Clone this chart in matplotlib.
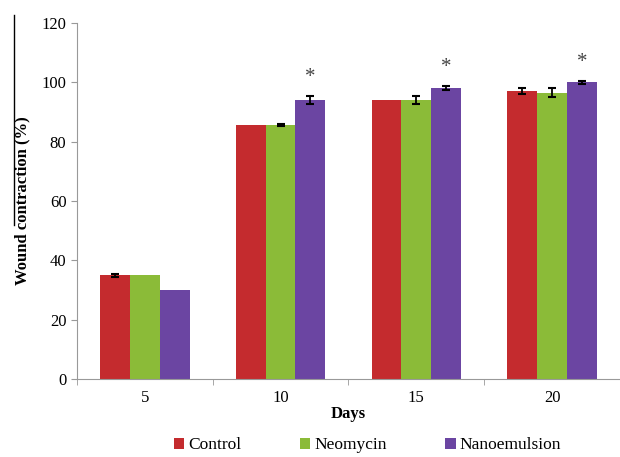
import matplotlib.pyplot as plt
from matplotlib.lines import Line2D
import numpy as np

days = ["5", "10", "15", "20"]
groups = ["Control", "Neomycin", "Nanoemulsion"]
control = [35.0, 85.5, 94.0, 97.0]
neomycin = [35.0, 85.5, 94.0, 96.5]
nanoemulsion = [30.0, 94.0, 98.0, 100.0]
control_err = [0.5, 0.0, 0.0, 1.0]
neomycin_err = [0.0, 0.4, 1.5, 1.5]
nanoemulsion_err = [0.0, 1.5, 0.8, 0.5]
significant = [False, True, True, True]

colors = ["#C42B2E", "#8BBB38", "#6B45A2"]

plt.rcParams["font.family"] = ["Liberation Serif", "DejaVu Serif"]

fig = plt.figure(figsize=(6.2, 4.57), dpi=100)
ax = fig.add_axes([0.124, 0.171, 0.876, 0.779])

x = np.arange(len(days))
width = 0.22
series = [control, neomycin, nanoemulsion]
errors = [control_err, neomycin_err, nanoemulsion_err]
for i, (vals, errs) in enumerate(zip(series, errors)):
    pos = x + (i - 1) * width
    ax.bar(pos, vals, width, color=colors[i], label=groups[i])
    keep = np.array(errs) > 0
    ax.errorbar(pos[keep], np.array(vals)[keep], yerr=np.array(errs)[keep],
                fmt="none", ecolor="black", elinewidth=1.3, capsize=3, capthick=1.5)

for xi, sig, v, e in zip(x, significant, nanoemulsion, nanoemulsion_err):
    if sig:
        ax.text(xi + width, v + e + 3, "*", ha="center", va="bottom",
                fontsize=15, color="#444444")

ax.set_xlim(-0.5, len(days) - 0.5)
ax.set_ylim(0, 120)
ax.set_yticks(range(0, 121, 20))
ax.set_xticks(x)
ax.set_xticklabels(days)
ax.set_xticks(np.arange(-0.5, len(days)), minor=True)
ax.tick_params(axis="x", which="major", length=0, labelsize=12, pad=8)
ax.tick_params(axis="x", which="minor", length=4, color="#999999")
ax.tick_params(axis="y", length=4, color="#999999", labelsize=12)

for side in ["top", "right"]:
    ax.spines[side].set_visible(False)
for side in ["left", "bottom"]:
    ax.spines[side].set_color("#999999")

ax.set_ylabel("Wound contraction (%)", fontweight="bold", fontsize=12, labelpad=8)
ax.set_xlabel("Days", fontweight="bold", fontsize=12, labelpad=0)

ax.legend(loc="upper center", bbox_to_anchor=(0.535, -0.12), ncol=3, frameon=False,
          fontsize=12.5, handlelength=0.6, handleheight=0.6, handletextpad=0.2,
          columnspacing=3.4)

fig.add_artist(Line2D([0.023, 0.023], [0.967, 0.508], color="black", lw=1))

fig.savefig("out.png", dpi=100)
